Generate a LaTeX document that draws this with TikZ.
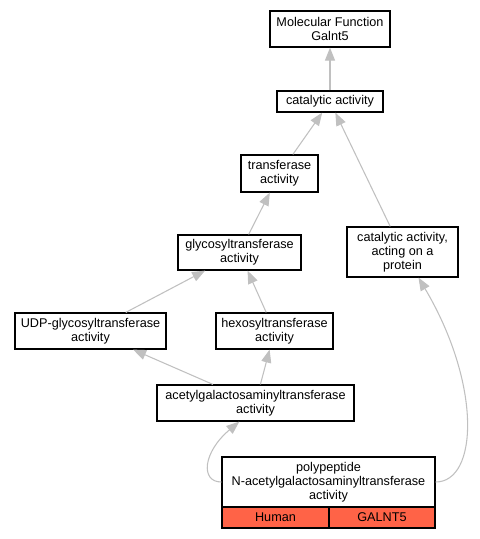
\documentclass[tikz,border=0pt]{standalone}
\usepackage{fontspec}
\setmainfont{Liberation Sans}
\usetikzlibrary{arrows.meta}

\tikzset{
  term/.style={draw, line width=0.9pt, fill=white, inner sep=0.75pt, align=center, font=\fontsize{9.5}{10.4}\selectfont},
  species/.style={term, fill={rgb,255:red,255; green,99; blue,71}, minimum height=15.75pt},
  isa/.style={draw={rgb,255:red,192; green,192; blue,192}, line width=0.8pt, -{Triangle[length=9.75pt,width=7.5pt]}}
}

\begin{document}
\begin{tikzpicture}[x=0.75pt,y=0.75pt,yscale=-1,xscale=1]
\useasboundingbox (0,0) rectangle (479,539);

% GO terms
\node[term, minimum width=90pt, minimum height=27pt] (mf) at (330,29) {Molecular Function\\Galnt5};
\node[term, minimum width=79.5pt, minimum height=15.75pt] (cat) at (330,101.5) {catalytic activity};
\node[term, minimum width=57.75pt, minimum height=27.75pt] (transf) at (279.5,173.5) {transferase\\activity};
\node[term, minimum width=92.25pt, minimum height=26.25pt] (glyco) at (239.5,252.5) {glycosyltransferase\\activity};
\node[term, minimum width=83.25pt, minimum height=37.5pt] (prot) at (402.5,252) {catalytic activity,\\acting on a\\protein};
\node[term, minimum width=113.25pt, minimum height=27pt] (udp) at (90.5,331) {UDP-glycosyltransferase\\activity};
\node[term, minimum width=87.75pt, minimum height=27pt] (hexo) at (274.5,331) {hexosyltransferase\\activity};
\node[term, minimum width=147.75pt, minimum height=27pt] (acetyl) at (255.5,403) {acetylgalactosaminyltransferase\\activity};

% annotated term
\node[term, minimum width=159.75pt, minimum height=37.5pt] (ppt) at (328.5,482) {polypeptide\\N-acetylgalactosaminyltransferase\\activity};
\node[species, minimum width=80.25pt] (human) at (275.5,517.5) {Human};
\node[species, minimum width=79.5pt] (galnt) at (382,517.5) {GALNT5};

% is_a edges
\draw[isa] (cat) -- (mf);
\draw[isa] (transf) -- (cat);
\draw[isa] (prot) -- (cat);
\draw[isa] (glyco) -- (transf);
\draw[isa] (udp) -- (glyco);
\draw[isa] (hexo) -- (glyco);
\draw[isa] (acetyl) -- (udp);
\draw[isa] (acetyl) -- (hexo);
\draw[isa] (ppt.west) .. controls (200,482) and (203,452) .. (acetyl.-131);
\draw[isa] (ppt.east) .. controls (478,482) and (482,385) .. (prot.-58);

\end{tikzpicture}
\end{document}
